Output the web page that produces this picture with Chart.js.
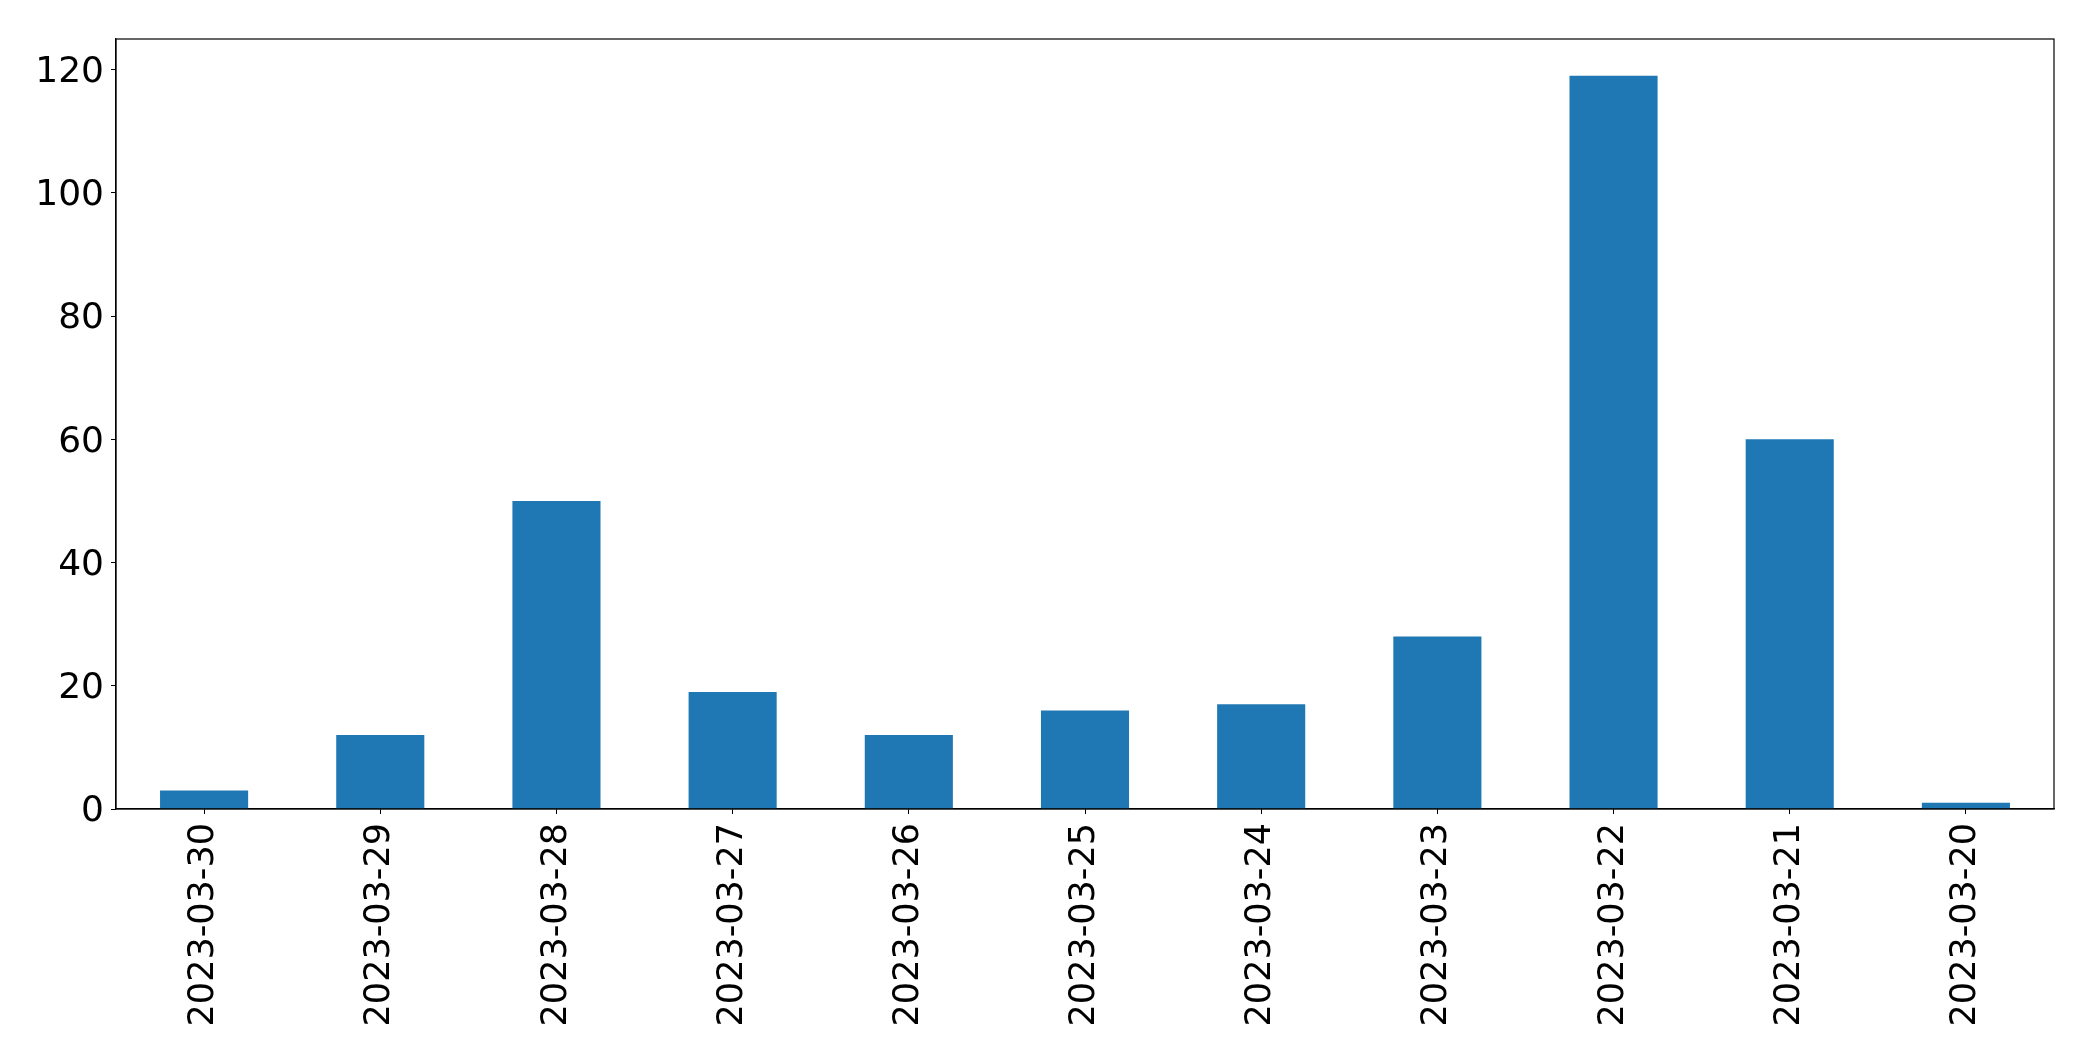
<!DOCTYPE html>
<html>
<head>
<meta charset="utf-8">
<script src="https://cdn.jsdelivr.net/npm/chart.js@4/dist/chart.umd.min.js"></script>
<style>
    html, body { margin: 0; padding: 0; background: #fff; }
    canvas { display: block; }
</style>
</head>
<body>
<canvas id="chart" width="2093" height="1061"></canvas>
<script>
// dates as they appear on the x axis (newest first)
const dates = [
    '2023-03-30', '2023-03-29', '2023-03-28', '2023-03-27', '2023-03-26', '2023-03-25',
    '2023-03-24', '2023-03-23', '2023-03-22', '2023-03-21', '2023-03-20'
];
const counts = [3, 12, 50, 19, 12, 16, 17, 28, 119, 60, 1];
const yTicks = [0, 20, 40, 60, 80, 100, 120];

// matplotlib style frame around the plot area
const frameBox = {
    id: 'frameBox',
    afterDraw(chart) {
        const a = chart.chartArea;
        const ctx = chart.ctx;
        ctx.save();
        ctx.strokeStyle = '#000';
        ctx.lineWidth = 1.2;
        ctx.strokeRect(a.left, a.top, a.right - a.left, a.bottom - a.top);
        ctx.restore();
    }
};

const ctx = document.getElementById('chart').getContext('2d');
new Chart(ctx, {
    type: 'bar',
    data: {
        labels: dates,
        datasets: [{
            data: counts,
            backgroundColor: '#1f77b4',
            borderWidth: 0,
            barPercentage: 0.5,
            categoryPercentage: 1.0
        }]
    },
    options: {
        responsive: false,
        animation: false,
        layout: { padding: { top: 39, right: 39, left: 0, bottom: 0 } },
        plugins: {
            legend: { display: false },
            tooltip: { enabled: false }
        },
        scales: {
            x: {
                offset: true,
                grid: {
                    display: true,
                    offset: false,
                    drawOnChartArea: false,
                    drawTicks: true,
                    tickLength: 5,
                    tickColor: '#000'
                },
                border: { display: true, color: '#000', width: 1.2 },
                ticks: {
                    color: '#000',
                    font: { family: 'DejaVu Sans', size: 35 },
                    minRotation: 90,
                    maxRotation: 90,
                    autoSkip: false,
                    padding: 9
                },
                afterFit(scale) { scale.height = 252; }
            },
            y: {
                min: 0,
                max: 124.95,
                grid: {
                    display: true,
                    drawOnChartArea: false,
                    drawTicks: true,
                    tickLength: 5,
                    tickColor: '#000'
                },
                border: { display: true, color: '#000', width: 1.2 },
                ticks: {
                    color: '#000',
                    font: { family: 'DejaVu Sans', size: 36 },
                    padding: 7,
                    labelOffset: 3
                },
                afterBuildTicks(scale) {
                    scale.ticks = yTicks.map(v => ({ value: v }));
                },
                afterFit(scale) { scale.width = 116; }
            }
        }
    },
    plugins: [frameBox]
});
</script>
</body>
</html>
